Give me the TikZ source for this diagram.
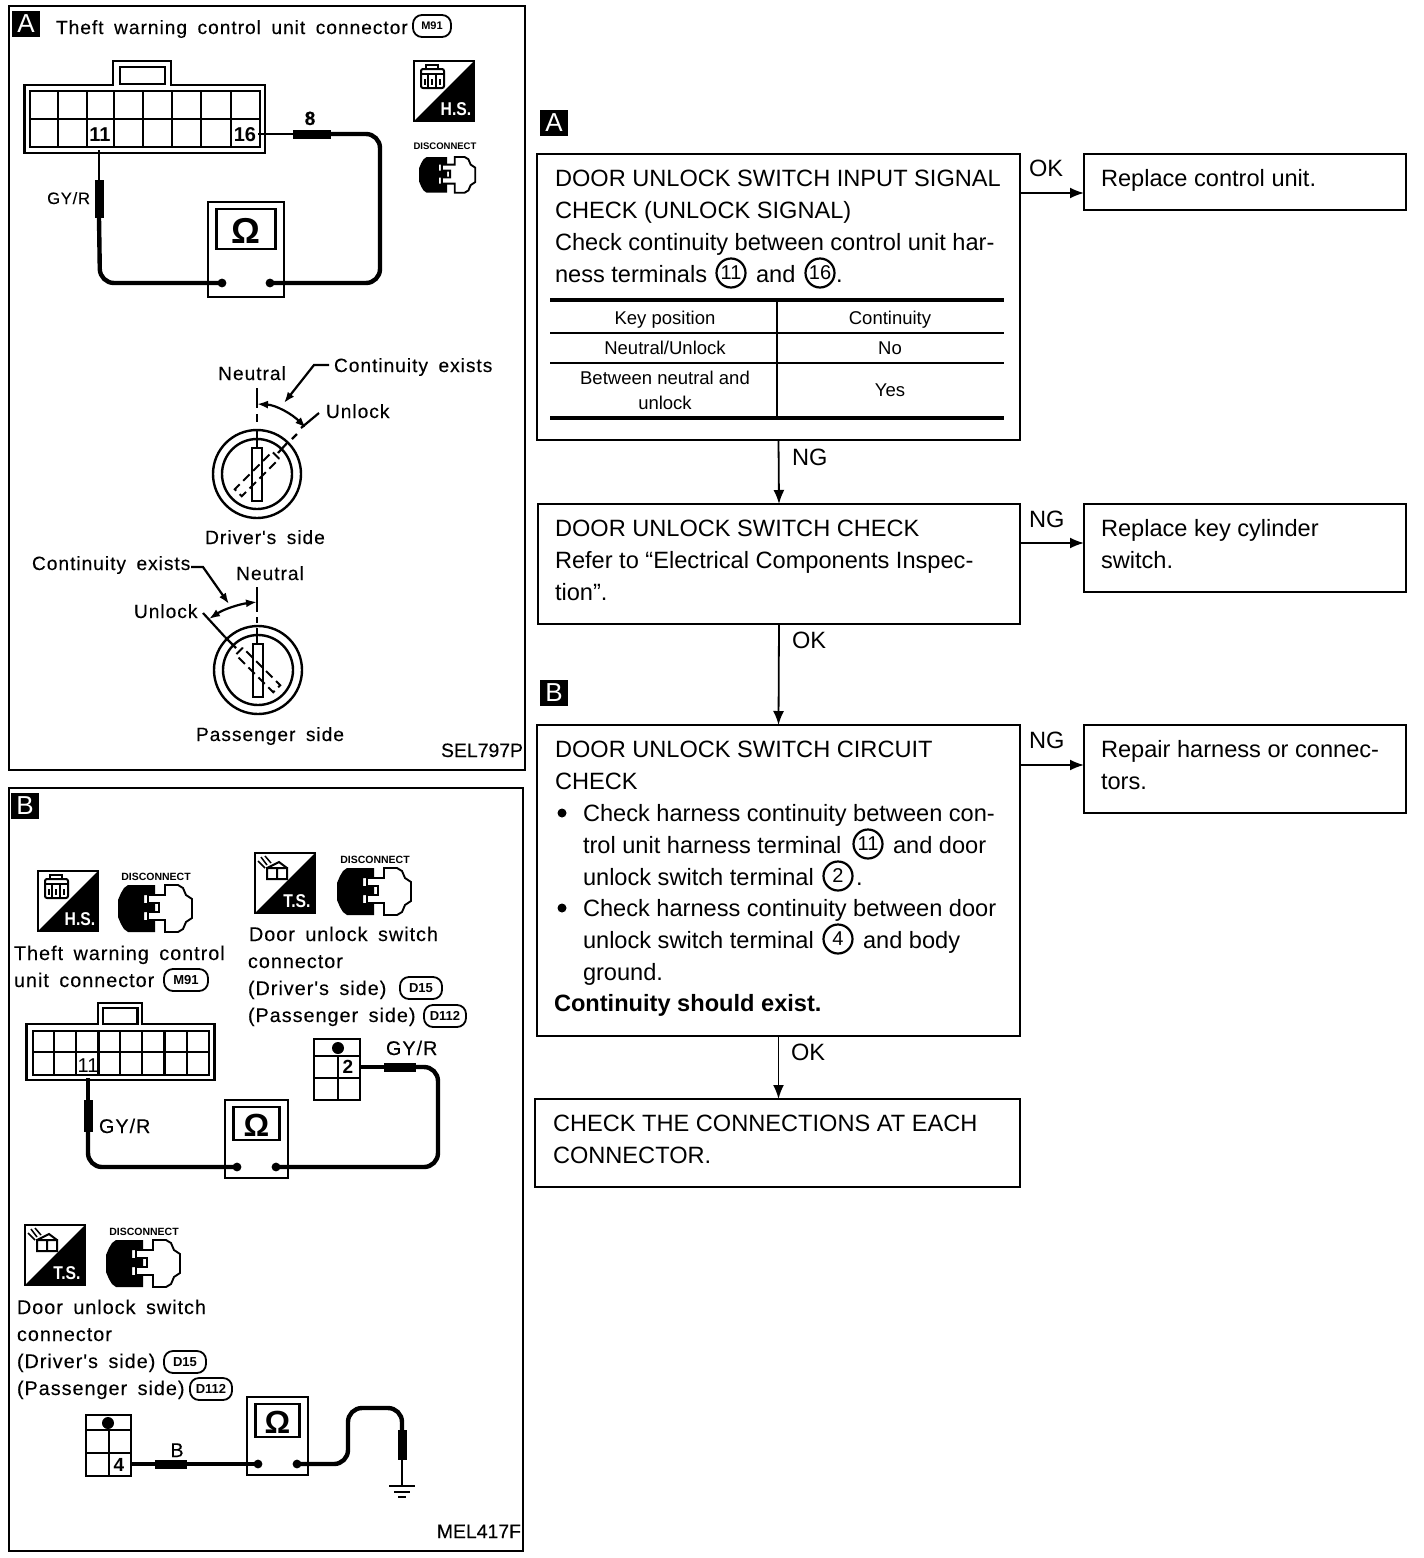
\documentclass[tikz,border=0pt]{standalone}
\usepackage{fontspec}
\setmainfont{Liberation Sans}
\newfontfamily\lsfont[LetterSpace=5,FakeBold=0.15]{Liberation Sans}
\newfontfamily\plfont[FakeBold=0.25]{Liberation Sans}
\usetikzlibrary{arrows.meta,calc}
\newcounter{tn}
\newcommand\fmain{\fontsize{23.6}{28}\selectfont}
\newcommand\fleft{\fontsize{19.2}{23}\lsfont\spaceskip=10.5pt\relax}
\tikzset{
  x=1pt,y=-1pt,
  every node/.style={inner sep=0pt,outer sep=0pt},
  flowbox/.style={draw,line width=2.4pt,anchor=north west,rectangle},
  flow/.style={line width=1.8pt,-{Latex[length=14pt,width=11pt]}},
  mtext/.style={anchor=base west,font=\fmain},
  ltext/.style={anchor=base west,font=\fleft},
  ctext/.style={anchor=base,font=\fleft},
  rtext/.style={anchor=base east,font=\fleft},
  tcell/.style={anchor=center,align=center,font=\fontsize{18.5}{25}\selectfont},
  cnum/.style={circle,draw,line width=2.2pt,minimum size=29pt,font=\fontsize{20}{20}\selectfont},
  tagbox/.style={fill=black,text=white,minimum width=28pt,minimum height=26pt,font=\fontsize{26}{26}\selectfont},
  badge/.style={draw,rounded corners=9pt,line width=1.8pt,minimum height=22pt,font=\bfseries\fontsize{13}{13}\selectfont},
  frame/.style={draw,line width=2pt,anchor=north west,rectangle},
  hull/.style={line width=2.4pt},
  grid/.style={line width=2.4pt},
  wire/.style={line width=4.4pt,rounded corners=14pt},
  thinw/.style={line width=2.4pt},
  probe/.style={line width=9pt},
  keyline/.style={line width=2.2pt},
  bigtip/.style={{Latex[length=11pt,width=8pt]}-},
  bothtip/.style={{Latex[length=11pt,width=8pt]}-{Latex[length=11pt,width=8pt]}},
  pin/.style={font=\bfseries\fontsize{20}{20}\selectfont},
  discword/.style={font=\bfseries\fontsize{10.5}{10.5}\selectfont},
  codelabel/.style={anchor=base east,font=\fontsize{19.4}{23}\plfont},
}
% text helpers
\newcommand\tmain[3]{\stepcounter{tn}\node[mtext] (t\thetn) at (#1,{#2+8}) {#3};}
\newcommand\tleft[3]{\stepcounter{tn}\node[ltext] (t\thetn) at (#1,{#2+7}) {#3};}
\newcommand\tctr[3]{\stepcounter{tn}\node[ctext] (t\thetn) at (#1,{#2+7}) {#3};}
\newcommand\trgt[3]{\stepcounter{tn}\node[rtext] (t\thetn) at (#1,{#2+7}) {#3};}
\newcommand\ohmmeter[9]{% name x1 y1 x2 y2 fontsize screenH xinset yinset
  \draw[line width=2.4pt] (#2,#3) rectangle (#4,#5);
  \draw[line width=2.4pt] ({#2+8.5},{#3+7}) rectangle ({#4-8.5},{#3+7+#7});
  \node[font=\bfseries\fontsize{#6}{#6}\selectfont] (#1s) at ({(#2+#4)/2},{#3+8.5+#7/2}) {Ω};
  \coordinate (#1L) at ({#2+#8},{#5-#9});
  \coordinate (#1R) at ({#4-#8},{#5-#9});
  \fill (#1L) circle[radius=4.4];
  \fill (#1R) circle[radius=4.4];
}
\newcommand\hsart{%
  \draw[line width=2pt,rounded corners=2pt] (7,8) rectangle (30,27);
  \draw[line width=1.5pt] (12,8) -- (12,4) -- (24,4) -- (24,8) (7,13) -- (30,13)
    (14,14) -- (14,27) (22,14) -- (22,27) (11,18) -- (11,24) (18,18) -- (18,24) (26,18) -- (26,24);
}
\newcommand\tsart{%
  \draw[line width=2pt] (12,15) rectangle (32,26) (22,15) -- (22,26) (12,15) -- (24,9) -- (32,15);
  \draw[line width=1.5pt] (6,4) -- (12,12) (10,3) -- (16,10) (3,8) -- (10,15);
}
\newcommand\iconbox[4]{% x y label art
  \begin{scope}[shift={(#1,#2)}]
    \draw[line width=2pt] (0,0) rectangle (60,60);
    \fill (60,0) -- (60,60) -- (0,60) -- cycle;
    \stepcounter{tn}\node[text=white,font=\bfseries\fontsize{18.5}{18.5}\selectfont,xscale=.85] (ic\thetn) at (42,48) {#3};
    #4
  \end{scope}
}
\newcommand\discon[3]{% x y scale
  \begin{scope}[shift={(#1,#2)},scale=#3]
    \fill (10,0) -- (37,0) -- (37,10) -- (26,10) -- (26,18) -- (37,18) -- (37,27) -- (26,27) -- (26,35) -- (37,35) -- (37,47) -- (10,47) -- (6,44) -- (3,39) -- (0,32) -- (0,15) -- (3,8) -- (6,3) -- cycle;
    \draw[line width=1.9pt] (47,0) -- (60,0) -- (65,3) -- (68,10) -- (74,14) -- (74,33) -- (68,37) -- (65,44) -- (60,47) -- (47,47) -- (47,35) -- (30,35) -- (30,27) -- (41,27) -- (41,18) -- (30,18) -- (30,10) -- (47,10) -- cycle;
  \end{scope}
}
\newcommand\ksym[4]{% name cx cy rotation
  \coordinate (#1) at (#2,#3);
  \draw[line width=2.4pt] (#1) circle[radius=44];
  \draw[line width=2.4pt] (#1) circle[radius=35];
  \node[draw,line width=2pt,minimum width=10pt,minimum height=53pt] (#1k) at (#1) {};
  \node[draw,line width=2pt,dash pattern=on 9pt off 5pt,minimum width=10pt,minimum height=53pt,rotate=#4] (#1d) at (#1) {};
}
\begin{document}
\begin{tikzpicture}
\useasboundingbox (0,0) rectangle (1424,1558);
\fill[white] (0,0) rectangle (1424,1558);

%%%%% Flow chart
\node[tagbox] (tagA) at (554,122.5) {A};
\node[tagbox] (tagB) at (554,692.5) {B};

\node[flowbox,minimum width=483pt,minimum height=286pt] (b1) at (537,154) {};
\node[flowbox,minimum width=322pt,minimum height=56pt] (r1) at (1084,154) {};
\node[flowbox,minimum width=482pt,minimum height=120pt] (b2) at (538,504) {};
\node[flowbox,minimum width=322pt,minimum height=88pt] (r2) at (1084,504) {};
\node[flowbox,minimum width=483pt,minimum height=311pt] (b3) at (537,725) {};
\node[flowbox,minimum width=322pt,minimum height=88pt] (r3) at (1084,725) {};
\node[flowbox,minimum width=485pt,minimum height=88pt] (b4) at (535,1099) {};

\coordinate (a1) at (1084,193);
\coordinate (a2) at (1084,543);
\coordinate (a3) at (1084,765);
\draw[flow] (b1.east |- a1) -- (a1);
\draw[flow] (b2.east |- a2) -- (a2);
\draw[flow] (b3.east |- a3) -- (a3);
\draw[flow] (b1.south) -- (b2.north);
\draw[flow] (b2.south) -- (b3.north);
\draw[flow] (b3.south) -- (b4.north -| b3.south);

\tmain{1029}{168}{OK}
\tmain{792}{457}{NG}
\tmain{1029}{519}{NG}
\tmain{792}{640}{OK}
\tmain{1029}{740}{NG}
\tmain{791}{1052}{OK}

\tmain{555}{178}{DOOR UNLOCK SWITCH INPUT SIGNAL}
\tmain{555}{210}{CHECK (UNLOCK SIGNAL)}
\tmain{555}{242}{Check continuity between control unit har-}
\tmain{555}{274}{ness terminals}
\node[cnum] (c11a) at (731,273) {11};
\tmain{756}{274}{and}
\node[cnum] (c16a) at (820,273) {16};
\tmain{836}{274}{.}

% table
\coordinate (tl) at (550,300);
\coordinate (tr) at (1004,300);
\coordinate (bl) at (550,418);
\coordinate (br) at (1004,418);
\draw[line width=3.4pt] (tl) -- (tr);
\draw[line width=3.4pt] (bl) -- (br);
\draw[line width=1.6pt] (550,333) -- (1004,333) (550,363) -- (1004,363);
\draw[line width=2.2pt] (777,300) -- (777,418);
\node[tcell] (k1) at (665,320) {Key position};
\node[tcell] (k2) at (890,320) {Continuity};
\node[tcell] (k3) at (665,348) {Neutral/Unlock};
\node[tcell] (k4) at (890,348) {No};
\node[tcell] (k5) at (665,390) {Between neutral and\\unlock};
\node[tcell] (k6) at (890,390) {Yes};

\tmain{1101}{178}{Replace control unit.}
\tmain{555}{528}{DOOR UNLOCK SWITCH CHECK}
\tmain{555}{560}{Refer to “Electrical Components Inspec-}
\tmain{555}{592}{tion”.}
\tmain{1101}{528}{Replace key cylinder}
\tmain{1101}{560}{switch.}
\tmain{555}{749}{DOOR UNLOCK SWITCH CIRCUIT}
\tmain{555}{781}{CHECK}
\fill (562,813) circle[radius=4.5];
\tmain{583}{813}{Check harness continuity between con-}
\tmain{583}{845}{trol unit harness terminal}
\node[cnum] (c11b) at (868,844) {11};
\tmain{893}{845}{and door}
\tmain{583}{877}{unlock switch terminal}
\node[cnum] (c2b) at (838,876) {2};
\tmain{856}{877}{.}
\fill (562,908) circle[radius=4.5];
\tmain{583}{908}{Check harness continuity between door}
\tmain{583}{940}{unlock switch terminal}
\node[cnum] (c4b) at (838,939) {4};
\tmain{863}{940}{and body}
\tmain{583}{972}{ground.}
\stepcounter{tn}\node[mtext,font=\fmain\bfseries] (t\thetn) at (554,1011) {Continuity should exist.};
\tmain{1101}{749}{Repair harness or connec-}
\tmain{1101}{781}{tors.}
\tmain{553}{1123}{CHECK THE CONNECTIONS AT EACH}
\tmain{553}{1155}{CONNECTOR.}

%%%%% Panel A
\node[frame,minimum width=516pt,minimum height=764pt] (panA) at (9,6) {};
\node[tagbox] (tagPA) at (26,23.5) {A};
\tleft{56}{27}{Theft warning control unit connector}
\node[badge,minimum width=38pt,font=\bfseries\fontsize{11}{11}\selectfont] (bM) at (432,26) {M91};
% connector
\draw[hull] (24.5,153) -- (24.5,85) -- (113,85) -- (113,61) -- (171,61) -- (171,85) -- (265,85) -- (265,153) -- cycle;
\draw[hull] (120,67) rectangle (165,84);
\draw[grid] (30,91) rectangle (260,147);
\draw[grid] (30,119) -- (260,119);
\foreach \c in {58,87,114,143,172,201,231} \draw[grid] (\c,91) -- (\c,147);
\node[pin] (pA11) at (100,135) {11};
\node[pin] (pA16) at (245,135) {16};
% meter + wires
\ohmmeter{mA}{208}{202}{284}{297}{36}{40}{14}{14}
\coordinate (wa1) at (99,150);
\coordinate (wa2) at (99,180);
\coordinate (wa3) at (99,218);
\coordinate (wa4) at (100,283);
\coordinate (wb1) at (258,134);
\coordinate (wb2) at (293,134);
\coordinate (wb3) at (331,134);
\coordinate (wb4) at (380,134);
\coordinate (wb5) at (380,283);
\draw[thinw] (wa1) -- (wa2);
\draw[probe] (wa2) -- (wa3);
\draw[wire] (wa3) -- (wa4) -- (mAL);
\draw[thinw] (wb1) -- (wb2);
\draw[probe] (wb2) -- (wb3);
\draw[wire] (wb3) -- (wb4) -- (wb5) -- (mAR);
\tctr{310}{118}{\bfseries 8}
\stepcounter{tn}\node[codelabel,font=\fontsize{16.5}{20}\lsfont] (t\thetn) at (90,204) {GY/R};
\iconbox{414}{61}{H.S.}{\hsart}
\node[font=\bfseries\fontsize{9.5}{9.5}\selectfont] (dw1) at (445,146) {DISCONNECT};
\discon{419}{157}{.76}

% driver's key
\ksym{kd}{257}{474}{-45}
\coordinate (kdn) at (257,404);
\coordinate (kdu) at (306,428);
\draw[keyline] (257,388) -- (257,408);
\draw[keyline] (257,414) -- (257,422) (257,430) -- (257,448);
\draw[keyline] (278,453) -- (288,442) (292,439) -- (297,434) (301,428) -- (319,413);
\draw[keyline,bothtip] (kdn) .. controls (276,405) and (292,414) .. (kdu);
\draw[keyline,bigtip] (284,403) -- (314,365) -- (329,365);
\tctr{252}{373}{Neutral}
\tleft{334}{365}{Continuity exists}
\tleft{326}{411}{Unlock}
\tctr{265}{537}{Driver's side}

% passenger key
\ksym{kp}{258}{670}{45}
\coordinate (kpn) at (257,602);
\coordinate (kpu) at (209,619);
\draw[keyline] (257,587) -- (257,612);
\draw[keyline] (257,617) -- (257,623) (257,628) -- (257,645);
\draw[keyline] (203,613) -- (225,637);
\draw[keyline] (225,637) -- (236,648);
\draw[keyline,bothtip] (kpn) .. controls (240,604) and (224,609) .. (kpu);
\draw[keyline,bigtip] (229,604) -- (203,567) -- (191,567);
\tctr{270}{573}{Neutral}
\tleft{32}{563}{Continuity exists}
\tleft{134}{611}{Unlock}
\tctr{270}{734}{Passenger side}
\stepcounter{tn}\node[codelabel] (t\thetn) at (523,757) {SEL797P};

%%%%% Panel B
\renewcommand\fleft{\fontsize{19.8}{23}\lsfont\spaceskip=10.5pt\relax}
\node[frame,minimum width=514pt,minimum height=763pt] (panB) at (9,788) {};
\node[tagbox] (tagPB) at (25,805.5) {B};
\iconbox{38}{871}{H.S.}{\hsart}
\node[discword] (dw2) at (156,877) {DISCONNECT};
\discon{118}{885}{1}
\iconbox{255}{853}{T.S.}{\tsart}
\node[discword] (dw3) at (375,860) {DISCONNECT};
\discon{337}{868}{1}
\tleft{14}{953}{Theft warning control}
\tleft{14}{980}{unit connector}
\node[badge,minimum width=44pt] (bM2) at (186,980) {M91};
\tleft{249}{934}{Door unlock switch}
\tleft{248}{961}{connector}
\tleft{248}{988}{(Driver's side)}
\node[badge,minimum width=42pt] (bD1) at (421,988) {D15};
\tleft{248}{1015}{(Passenger side)}
\node[badge,minimum width=42pt] (bD2) at (445,1016) {D112};
% connector M91
\draw[hull] (26.5,1080) -- (26.5,1024) -- (98,1024) -- (98,1003) -- (142,1003) -- (142,1024) -- (214.5,1024) -- (214.5,1080) -- cycle;
\draw[hull] (103,1008) rectangle (137.5,1024);
\draw[grid] (33,1031) rectangle (209,1075);
\draw[grid] (33,1052) -- (209,1052);
\foreach \c in {54,76,98.5,120,142,164.5,187} \draw[grid] (\c,1031) -- (\c,1075);
\node[font=\fontsize{20}{20}\selectfont] (pB11) at (88,1066) {11};
% small connector 2
\draw[grid] (314,1039) rectangle (360,1100);
\draw[grid] (314,1056) -- (360,1056) (314,1078) -- (360,1078) (338,1056) -- (338,1100);
\fill (338,1048) circle[radius=6];
\node[font=\fontsize{19}{19}\selectfont\bfseries] (pB2) at (348,1067) {2};
\ohmmeter{mB}{225}{1100}{288}{1178}{32}{33}{12}{11}
\coordinate (wc1) at (88,1078);
\coordinate (wc2) at (88,1100);
\coordinate (wc3) at (88,1132);
\coordinate (wc4) at (88,1167);
\coordinate (wd1) at (360,1067);
\coordinate (wd2) at (384,1067);
\coordinate (wd3) at (416,1067);
\coordinate (wd4) at (438,1067);
\coordinate (wd5) at (438,1167);
\draw[wire] (wc1) -- (wc2);
\draw[probe] (wc2) -- (wc3);
\draw[wire] (wc3) -- (wc4) -- (mBL);
\draw[wire] (wd1) -- (wd2);
\draw[probe] (wd2) -- (wd3);
\draw[wire] (wd3) -- (wd4) -- (wd5) -- (mBR);
\tleft{99}{1126}{GY/R}
\tleft{386}{1048}{GY/R}

\iconbox{25}{1225}{T.S.}{\tsart}
\node[discword] (dw4) at (144,1232) {DISCONNECT};
\discon{106}{1240}{1}
\tleft{17}{1307}{Door unlock switch}
\tleft{17}{1334}{connector}
\tleft{17}{1361}{(Driver's side)}
\node[badge,minimum width=42pt] (bD3) at (185,1362) {D15};
\tleft{17}{1388}{(Passenger side)}
\node[badge,minimum width=42pt] (bD4) at (211,1389) {D112};
% connector small 4
\draw[grid] (86,1415) rectangle (131,1476);
\draw[grid] (86,1430) -- (131,1430) (86,1453) -- (131,1453) (109,1430) -- (109,1476);
\fill (108,1423) circle[radius=6];
\node[font=\fontsize{19}{19}\selectfont\bfseries] (pB4) at (119,1465) {4};
\ohmmeter{mC}{247}{1397}{308}{1475}{32}{33}{11}{11}
\coordinate (we1) at (131,1464);
\coordinate (we2) at (155,1464);
\coordinate (we3) at (187,1464);
\coordinate (wf1) at (348,1464);
\coordinate (wf2) at (348,1408);
\coordinate (wf3) at (402,1408);
\coordinate (wf4) at (402,1430);
\coordinate (wf5) at (402,1460);
\coordinate (gnd) at (402,1486);
\draw[wire] (we1) -- (we2);
\draw[probe] (we2) -- (we3);
\draw[wire] (we3) -- (mCL);
\draw[wire] (mCR) -- (wf1) -- (wf2) -- (wf3) -- (wf4);
\draw[probe] (wf4) -- (wf5);
\draw[thinw] (wf5) -- (gnd);
\draw[line width=2.4pt] ($(gnd)+(-13,0)$) -- ($(gnd)+(13,0)$);
\draw[line width=2.8pt] ($(gnd)+(-8,6)$) -- ($(gnd)+(8,6)$);
\draw[line width=2.8pt] ($(gnd)+(-4,11)$) -- ($(gnd)+(4,11)$);
\tctr{177}{1450}{B}
\stepcounter{tn}\node[codelabel] (t\thetn) at (521,1538) {MEL417F};
\end{tikzpicture}
\end{document}
